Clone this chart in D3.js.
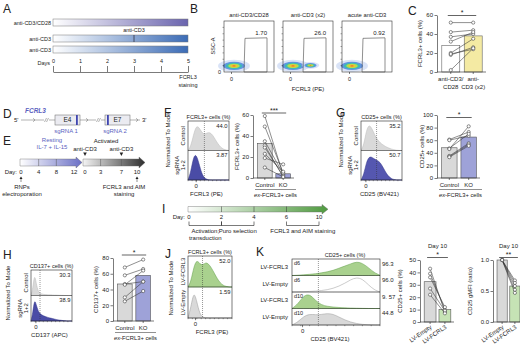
<!DOCTYPE html>
<html>
<head>
<meta charset="utf-8">
<script src="https://cdn.jsdelivr.net/npm/d3@7"></script>
<style>
  body { margin: 0; background: #fff; }
  svg { display: block; }
</style>
</head>
<body>
<svg id="fig" width="520" height="344"></svg>
<script>
// ---------- data ----------
const aConds = ["anti-CD3/CD28", "anti-CD3", "anti-CD3"];
const aDays = [0, 1, 2, 3, 4, 5];

const bTitles = ["anti-CD3/CD28", "anti-CD3 (x2)", "acute anti-CD3"];
const bGatePct = ["1.70", "26.0", "0.92"];
// flow populations per plot: [FCRL3 pos, SSC pos, relative size]
const bPops = [[[0.2, 0.12, 1]], [[0.2, 0.12, 1], [0.55, 0.13, 0.55]], [[0.2, 0.12, 1]]];

const cCats = ["anti-CD3/CD28", "anti-CD3 (x2)"];
const cMeans = [28, 38];
const cPairs = [[52, 52], [42, 44], [37, 40], [32, 42], [20, 35], [18, 26], [19, 24], [2, 25]];

const eRestDays = [0, 4, 8, 12];
const eActDays = [0, 3, 7, 10];

const fHistPct = ["44.0", "3.87"];
const fHistCtrl = [0, 0.15, 0.6, 0.95, 0.9, 0.7, 0.62, 0.68, 0.7, 0.6, 0.42, 0.25, 0.12, 0.05, 0.02, 0];
const fHistKO = [0, 0.3, 0.9, 1.0, 0.65, 0.25, 0.08, 0.02, 0, 0, 0, 0, 0, 0, 0, 0];
const fCats = ["Control", "KO"];
const fMeans = [33, 4];
const fPairs = [[59, 3], [49, 5], [35, 4], [31, 1], [29, 2], [23, 6], [19, 13], [10, 1]];

const gHistPct = ["35.2", "50.7"];
const gHistCtrl = [0, 0.2, 0.8, 1.0, 0.85, 0.6, 0.42, 0.3, 0.22, 0.15, 0.1, 0.06, 0.03, 0.01, 0, 0];
const gHistKO = [0, 0.2, 0.7, 0.9, 0.88, 0.8, 0.75, 0.68, 0.5, 0.3, 0.15, 0.06, 0.02, 0, 0, 0];
const gMeans = [48, 65];
const gPairs = [[61, 73], [60, 67], [47, 70], [46, 82], [35, 55], [34, 53], [33, 51]];

const hHistPct = ["30.3", "38.9"];
const hHistCtrl = [0, 0.3, 1.0, 0.5, 0.2, 0.1, 0.07, 0.05, 0.04, 0.035, 0.03, 0.03, 0.025, 0.02, 0.02, 0.015, 0.01, 0.01, 0.005, 0, 0, 0, 0, 0];
const hHistKO = [0, 0.35, 1.0, 0.7, 0.45, 0.33, 0.27, 0.23, 0.2, 0.17, 0.15, 0.13, 0.11, 0.09, 0.07, 0.05, 0.04, 0.03, 0.02, 0.01, 0, 0, 0, 0];
const hMeans = [47, 58];
const hPairs = [[68, 78], [58, 66], [47, 50], [46, 64], [30, 50], [25, 38]];

const iDays = ["0", "2", "4", "6", "10"];
const iSteps = [["0", "2", ["Activation;", "transduction"]], ["2", "4", ["Puro selection"]], ["6", "10", ["FCRL3 and AIM staining"]]];

const jHistPct = ["52.0", "1.59"];
const jHistFCRL3 = [0, 0.2, 0.75, 1.0, 0.85, 0.8, 0.9, 0.85, 0.7, 0.5, 0.3, 0.15, 0.06, 0.02, 0, 0];
const jHistEmpty = [0, 0.4, 1.0, 0.6, 0.15, 0.03, 0, 0, 0, 0, 0, 0, 0, 0, 0, 0];

const kRows = ["LV-FCRL3", "LV-Empty", "LV-FCRL3", "LV-Empty"];
const kDays = ["d6", "d6", "d10", "d10"];
const kPct = ["96.3", "96.0", "9. 57", "44.8"];
const kHists = [
  [0, 0.02, 0.05, 0.08, 0.12, 0.18, 0.25, 0.35, 0.5, 0.65, 0.8, 0.95, 0.85, 0.55, 0.2, 0.02],
  [0, 0, 0.02, 0.04, 0.06, 0.1, 0.15, 0.25, 0.4, 0.6, 0.85, 1.0, 0.9, 0.5, 0.15, 0],
  [0, 0.3, 0.9, 1.0, 0.55, 0.25, 0.15, 0.1, 0.07, 0.05, 0.03, 0.02, 0.01, 0, 0, 0],
  [0, 0.2, 0.6, 0.75, 0.7, 0.72, 0.8, 0.75, 0.55, 0.35, 0.2, 0.1, 0.04, 0.01, 0, 0]
];
const kCats = ["LV-Empty", "LV-FCRL3"];
const kPctMeans = [32.5, 10];
const kPctPairs = [[43, 8], [39, 10], [36, 12], [27, 9], [22, 7]];
const kMfiMeans = [1.0, 0.58];
const kMfiPairs = [[1, 0.67], [1, 0.63], [1, 0.58], [1, 0.52], [1, 0.47]];

// ---------- styles ----------
const FONT = "'Liberation Sans', Arial, sans-serif";
const INK = "#222";
const grayFill = "#d9d9d9";
const blueBar = "#9ea2d8", blueHist = "#4a4ca6";
const greenHist = "#a9d18e", greenBar = "#c6e3b5", greenStroke = "#5c9d45";
const yellowBar = "#f4eaa3";
const purpleTxt = "#5b5fc0";

const svg = d3.select("#fig").attr("font-family", FONT);
const defs = svg.append("defs");

function grad(id, c0, c1) {
  const g = defs.append("linearGradient").attr("id", id);
  g.append("stop").attr("offset", "0%").attr("stop-color", c0);
  g.append("stop").attr("offset", "100%").attr("stop-color", c1);
}
grad("gPurple", "#ffffff", "#6a64ae");
grad("gBlue", "#ffffff", "#3c6cb6");
grad("gRest", "#ffffff", "#6a6fc5");
grad("gAct", "#f4f4f4", "#2e2e2e");
grad("gGreen", "#ffffff", "#4f9a3f");

function txt(x, y, s, o = {}) {
  const t = svg.append("text").attr("x", x).attr("y", y)
    .attr("font-size", o.size || 6).attr("fill", o.fill || INK)
    .attr("text-anchor", o.anchor || "start").text(s);
  if (o.rot) t.attr("transform", `rotate(${o.rot},${x},${y})`);
  if (o.italic) t.attr("font-style", "italic");
  if (o.weight) t.attr("font-weight", o.weight);
  return t;
}
const vtxt = (x, cy, s, o = {}) => txt(x, cy, s, Object.assign({ rot: -90, anchor: "middle" }, o));
const letter = (x, y, s) => txt(x, y, s, { size: 12 });

function line(x1, y1, x2, y2, o = {}) {
  return svg.append("line").attr("x1", x1).attr("y1", y1).attr("x2", x2).attr("y2", y2)
    .attr("stroke", o.stroke || INK).attr("stroke-width", o.w || 0.6)
    .attr("stroke-dasharray", o.dash || null);
}

function styleAxis(g) {
  g.attr("font-size", 6).attr("font-family", FONT);
  g.selectAll("path,line").attr("stroke", INK).attr("stroke-width", 0.6);
  g.selectAll("text").attr("fill", INK);
}

// ---------- A ----------
letter(3, 13, "A");
const aX = d3.scaleLinear().domain([0, 5]).range([53, 188]);
const aRowY = [19, 35, 46];
const aFill = ["url(#gPurple)", "url(#gBlue)", "url(#gBlue)"];
aConds.forEach((c, i) => {
  svg.append("rect").attr("x", aX(0)).attr("y", aRowY[i]).attr("width", aX(5) - aX(0)).attr("height", 7)
    .attr("fill", aFill[i]).attr("stroke", "#777").attr("stroke-width", 0.5);
  txt(aX(0) - 2, aRowY[i] + 5.5, c, { anchor: "end", size: 5.5 });
});
line(aX(3), aRowY[1], aX(3), aRowY[1] + 7, { stroke: "#334", w: 0.8 });
txt(aX(3), 32, "anti-CD3", { anchor: "middle", size: 5.5 });
const aAxis = svg.append("g").attr("transform", "translate(0,72)")
  .call(d3.axisTop(aX).tickValues(aDays).tickSize(6).tickSizeOuter(0).tickFormat(d3.format("d")));
styleAxis(aAxis);
aAxis.selectAll("text").attr("font-size", 5.5);
txt(aX(0) - 3, 64.5, "Days", { anchor: "end", size: 5.5 });
txt(aX(5), 79, "FCRL3", { anchor: "middle", size: 5.5 });
txt(aX(5), 87, "staining", { anchor: "middle", size: 5.5 });

// ---------- B ----------
letter(190, 13, "B");
const bLeft = [224, 283, 342], bW = 50, bTop = 21, bBot = 72;
const heat = ["#c9d7f4", "#5c8fe0", "#3bbfae", "#b7df4c", "#f1c232", "#e8692b"];
const heatK = [1.45, 1.0, 0.75, 0.52, 0.32, 0.15];
bTitles.forEach((t, i) => {
  const fx = d3.scaleLinear().domain([0, 1]).range([bLeft[i], bLeft[i] + bW]);
  const fy = d3.scaleLinear().domain([0, 1]).range([bBot, bTop]);
  txt(fx(0.5), 17, t, { anchor: "middle", size: 5.8 });
  bPops[i].forEach(p => {
    heat.forEach((c, k) => {
      svg.append("ellipse").attr("cx", fx(p[0])).attr("cy", fy(p[1]))
        .attr("rx", 11 * p[2] * heatK[k]).attr("ry", 4.2 * p[2] * heatK[k])
        .attr("fill", c).attr("opacity", k === 0 ? 0.7 : 0.95);
    });
  });
  svg.append("rect").attr("x", fx(0)).attr("y", bTop).attr("width", bW).attr("height", bBot - bTop)
    .attr("fill", "none").attr("stroke", "#333").attr("stroke-width", 0.6);
  const gate = [[0.42, 0.66], [0.86, 0.67], [0.86, 0], [0.4, 0]];
  svg.append("path").attr("d", d3.line().x(d => fx(d[0])).y(d => fy(d[1]))(gate) + "Z")
    .attr("fill", "none").attr("stroke", "#444").attr("stroke-width", 0.6);
  txt(fx(0.86), fy(0.66) - 3, bGatePct[i], { anchor: "end", size: 6 });
  line(fx(0.15), bBot, fx(0.15), bBot + 2);
  txt(fx(0.15), 81, "0", { anchor: "middle", size: 5.5 });
  d3.range(1, 8).forEach(k => line(fx(0) - 1.5, fy(k / 8), fx(0), fy(k / 8), { w: 0.4 }));
});
txt(bLeft[0] - 3, 74, "0", { anchor: "end", size: 5.5 });
vtxt(215, 46, "SSC-A", { size: 5.5 });
txt(bLeft[1] + bW / 2, 91, "FCRL3 (PE)", { anchor: "middle", size: 6 });

// ---------- paired bar charts ----------
function pairedBars(c) {
  const x = d3.scaleBand().domain(c.cats).range([c.x0 + 3, c.x1]).paddingInner(c.padIn || 0.2).paddingOuter(0.08);
  const y = d3.scaleLinear().domain(c.yDomain).range([c.yBottom, c.yTop]);
  const cx = i => x(c.cats[i]) + x.bandwidth() / 2;
  svg.append("g").selectAll("rect").data(c.cats).join("rect")
    .attr("x", d => x(d)).attr("width", x.bandwidth())
    .attr("y", (d, i) => y(c.means[i])).attr("height", (d, i) => y(0) - y(c.means[i]))
    .attr("fill", (d, i) => c.fills[i]).attr("stroke", c.barStroke || "#555").attr("stroke-width", 0.6);
  const ax = svg.append("g").attr("transform", `translate(${c.x0},0)`)
    .call(d3.axisLeft(y).tickValues(c.yTicks).tickSize(2.5).tickSizeOuter(0).tickPadding(1.5)
      .tickFormat(c.fmt || d3.format("d")));
  styleAxis(ax);
  line(c.x0, y(0), c.x1 + 2, y(0));
  c.cats.forEach((d, i) => line(cx(i), y(0), cx(i), y(0) + 2));
  const gp = svg.append("g");
  gp.selectAll("line").data(c.pairs).join("line")
    .attr("x1", cx(0)).attr("x2", cx(1)).attr("y1", p => y(p[0])).attr("y2", p => y(p[1]))
    .attr("stroke", "#333").attr("stroke-width", 0.55);
  [0, 1].forEach(s => {
    gp.append("g").selectAll("circle").data(c.pairs).join("circle")
      .attr("cx", cx(s)).attr("cy", p => y(p[s])).attr("r", 1.6)
      .attr("fill", "#fff").attr("stroke", "#333").attr("stroke-width", 0.55);
  });
  vtxt(c.ylabelX, (c.yTop + c.yBottom) / 2, c.ylabel, { size: 6 });
  line(cx(0) - 3, c.sigY, cx(1) + 3, c.sigY, { w: 0.7 });
  txt((cx(0) + cx(1)) / 2, c.sigY - 0.5, c.sig, { anchor: "middle", size: 7 });
  return { x, y, cx };
}

function exLabels(r, c) {
  c.cats.forEach((d, i) => txt(r.cx(i), c.yBottom + 9, d, { anchor: "middle", size: 6 }));
  line(c.x0 + 2, c.yBottom + 11.5, c.x1 + 4, c.yBottom + 11.5, { w: 0.5 });
  const t = txt((c.x0 + c.x1) / 2 + 3, c.yBottom + 18.5, "", { anchor: "middle", size: 5.8 });
  t.append("tspan").attr("font-style", "italic").text("ex-");
  t.append("tspan").text("FCRL3+ cells");
}

// ---------- C ----------
letter(408, 15, "C");
const cCfg = {
  cats: cCats, means: cMeans, pairs: cPairs, fills: ["#fff", yellowBar], barStroke: "#666",
  x0: 437, x1: 484, yTop: 15, yBottom: 72, yDomain: [0, 60], yTicks: [0, 20, 40, 60],
  ylabel: "FCRL3+ cells (%)", ylabelX: 422, sig: "*", sigY: 15.5
};
const cR = pairedBars(cCfg);
[["anti-CD3/", "CD28"], ["anti-", "CD3 (x2)"]].forEach((l, i) => {
  txt(cR.cx(i), 81, l[0], { anchor: "middle", size: 6 });
  txt(cR.cx(i), 88.5, l[1], { anchor: "middle", size: 6 });
});

// ---------- D ----------
letter(3, 118, "D");
txt(25, 113, "FCRL3", { size: 6.5, italic: true, weight: "bold", fill: purpleTxt });
const dY = 120;
txt(14, dY + 2, "5'", { size: 6 });
txt(142, dY + 2, "3'", { size: 6 });
[[21, 44], [49, 55], [80, 96], [101, 105], [130, 140]].forEach(s => line(s[0], dY, s[1], dY, { stroke: "#666", w: 0.5 }));
[35, 88, 138].forEach(xc => svg.append("path").attr("d", `M${xc - 2},${dY - 1.8}L${xc},${dY}L${xc - 2},${dY + 1.8}`)
  .attr("fill", "none").attr("stroke", "#666").attr("stroke-width", 0.5));
[46.5, 98.5].forEach(xc => {
  line(xc - 2, dY + 2, xc, dY - 2, { stroke: "#666", w: 0.5 });
  line(xc, dY + 2, xc + 2, dY - 2, { stroke: "#666", w: 0.5 });
});
[["E4", 55, 76, "sgRNA 1", 66], ["E7", 105, 107, "sgRNA 2", 115]].forEach(e => {
  svg.append("rect").attr("x", e[1]).attr("y", dY - 5).attr("width", 25).attr("height", 10)
    .attr("fill", "#ebebf1").attr("stroke", "#666").attr("stroke-width", 0.5);
  svg.append("rect").attr("x", e[2]).attr("y", dY - 5).attr("width", 1.8).attr("height", 10).attr("fill", "#3f45b0");
  txt(e[1] + 12.5, dY + 2.3, e[0], { anchor: "middle", size: 6.5 });
  txt(e[4], dY + 13, e[3], { anchor: "middle", size: 6, fill: purpleTxt });
});

// ---------- E ----------
letter(3, 145, "E");
const eX1 = d3.scaleLinear().domain([0, 12]).range([21, 74]);
const eX2 = d3.scaleLinear().domain([0, 10]).range([85, 137]);
function arrow(x0, x1, yt, yb, fill) {
  const ym = (yt + yb) / 2, h = x1 - 6;
  svg.append("path").attr("d", `M${x0},${yt}L${h},${yt}L${h},${yt - 2}L${x1},${ym}L${h},${yb + 2}L${h},${yb}L${x0},${yb}Z`)
    .attr("fill", fill).attr("stroke", "#666").attr("stroke-width", 0.4);
}
arrow(eX1(0) - 1, eX1(12) + 8, 159, 166, "url(#gRest)");
arrow(eX2(0) - 2, eX2(10) + 8, 159, 166, "url(#gAct)");
eRestDays.slice(1, 3).forEach(d => line(eX1(d), 159, eX1(d), 166, { stroke: "#555", w: 0.5 }));
eActDays.slice(1, 3).forEach(d => line(eX2(d), 159, eX2(d), 166, { stroke: "#555", w: 0.5 }));
txt(17, 174, "Day:", { anchor: "end", size: 6 });
eRestDays.forEach(d => txt(eX1(d), 174, d, { anchor: "middle", size: 6 }));
eActDays.forEach(d => txt(eX2(d), 174, d, { anchor: "middle", size: 6 }));
txt(52, 142, "Resting", { anchor: "middle", size: 6, fill: purpleTxt });
txt(52, 149, "IL-7 + IL-15", { anchor: "middle", size: 6, fill: purpleTxt });
txt(106, 143, "Activated", { anchor: "middle", size: 6 });
[0, 7].forEach(d => {
  txt(eX2(d), 150.5, "anti-CD3", { anchor: "middle", size: 6 });
  svg.append("path").attr("d", `M${eX2(d) - 1.8},${152.5}L${eX2(d) + 1.8},${152.5}L${eX2(d)},${156}Z`).attr("fill", INK);
});
[[eX1(0), ["RNPs", "electroporation"], 22], [eX2(10), ["FCRL3 and AIM", "staining"], 124]].forEach(u => {
  line(u[0], 177.5, u[0], 182, { w: 0.5 });
  svg.append("path").attr("d", `M${u[0] - 1.5},${179}L${u[0] + 1.5},${179}L${u[0]},${176.5}Z`).attr("fill", INK);
  txt(u[2], 189, u[1][0], { anchor: "middle", size: 6 });
  txt(u[2], 196, u[1][1], { anchor: "middle", size: 6 });
});

// ---------- histograms ----------
function histPanel(o) {
  const fx = d3.scaleLinear().domain([0, 1]).range([o.x0, o.x1]);
  o.rows.forEach((r, i) => {
    const rt = o.top + i * o.rowH, rb = rt + o.rowH;
    const xs = d3.scaleLinear().domain([0, r.vals.length - 1]).range([o.x0, o.x1]);
    const ys = d3.scaleLinear().domain([0, 1]).range([rb, rt + o.rowH * 0.12]);
    const area = d3.area().x((d, j) => xs(j)).y0(rb).y1(d => ys(d)).curve(d3.curveBasis);
    svg.append("path").datum(r.vals).attr("d", area)
      .attr("fill", r.fill).attr("stroke", r.stroke).attr("stroke-width", 0.5);
    if (i > 0) line(o.x0, rt, o.x1, rt, { w: 0.5 });
    if (o.nums) {
      if (o.numsOut) txt(o.x1 + 2, rt + 6.5, o.nums[i], { size: 6 });
      else txt(o.x1 - 1.5, rt + 6.5, o.nums[i], { anchor: "end", size: 5.8 });
    }
    if (o.tags) txt(o.x0 + 2, rt + 6, o.tags[i], { size: 5.5 });
    if (o.rowLabels) {
      const l = o.rowLabels[i];
      if (o.rowLabelsVert) {
        l.forEach((s, k) => vtxt(o.x0 - 3 - (l.length - 1 - k) * 6.5, (rt + rb) / 2, s, { size: 6 }));
      } else {
        txt(o.x0 - 4, (rt + rb) / 2 + 2, l[0], { anchor: "end", size: 6 });
      }
    }
  });
  const bottom = o.top + o.rows.length * o.rowH;
  svg.append("rect").attr("x", o.x0).attr("y", o.top).attr("width", o.x1 - o.x0).attr("height", bottom - o.top)
    .attr("fill", "none").attr("stroke", INK).attr("stroke-width", 0.6);
  line(fx(o.gate), o.top, fx(o.gate), bottom, { dash: "1,1", w: 0.5, stroke: "#333" });
  d3.range(0, 1.01, 0.1).forEach(t => line(fx(t), bottom, fx(t), bottom + 1.2, { w: 0.4 }));
  line(fx(o.zero), bottom, fx(o.zero), bottom + 2.2);
  txt(fx(o.zero), bottom + 8, "0", { anchor: "middle", size: 6 });
  txt(o.titleX || fx(0.5), o.top - 2.5, o.title, { anchor: "middle", size: 5.6 });
  txt(o.xlabelX || fx(0.45), bottom + 16, o.xlabel, { anchor: "middle", size: 6 });
  if (o.normX) vtxt(o.normX, o.normY || (o.top + bottom) / 2, "Normalized To Mode", { size: 6 });
}

// ---------- F ----------
letter(164, 117, "F");
histPanel({
  x0: 188, x1: 229, top: 121, rowH: 29.5, gate: 0.4, zero: 0.2,
  rows: [{ vals: fHistCtrl, fill: grayFill, stroke: "#bbb" }, { vals: fHistKO, fill: blueHist, stroke: "#34368a" }],
  nums: fHistPct, rowLabels: [["Control"], ["sgRNA", "1+2"]], rowLabelsVert: true,
  title: "FCRL3+ cells (%)", xlabel: "FCRL3 (PE)", normX: 170, normY: 140
});
const fCfg = {
  cats: fCats, means: fMeans, pairs: fPairs, fills: [grayFill, blueBar],
  x0: 253, x1: 292, yTop: 115, yBottom: 178, yDomain: [0, 60], yTicks: [0, 20, 40, 60],
  ylabel: "FCRL3+ cells (%)", ylabelX: 239, sig: "***", sigY: 113
};
exLabels(pairedBars(fCfg), fCfg);

// ---------- G ----------
letter(336, 117, "G");
histPanel({
  x0: 361, x1: 402, top: 121, rowH: 29.5, gate: 0.38, zero: 0.12,
  rows: [{ vals: gHistCtrl, fill: grayFill, stroke: "#bbb" }, { vals: gHistKO, fill: "#5557b0", stroke: "#34368a" }],
  nums: gHistPct, rowLabels: [["Control"], ["sgRNA", "1+2"]], rowLabelsVert: true,
  title: "CD25+ cells (%)", xlabel: "CD25 (BV421)", normX: 343, normY: 140
});
const gCfg = {
  cats: fCats, means: gMeans, pairs: gPairs, fills: [grayFill, blueBar],
  x0: 437, x1: 478, yTop: 115, yBottom: 178, yDomain: [0, 100], yTicks: [0, 20, 40, 60, 80, 100],
  ylabel: "CD25+ cells (%)", ylabelX: 424, sig: "*", sigY: 117.5
};
exLabels(pairedBars(gCfg), gCfg);

// ---------- H ----------
letter(3, 259, "H");
histPanel({
  x0: 31, x1: 72, top: 270, rowH: 25.5, gate: 0.22, zero: 0.12,
  rows: [{ vals: hHistCtrl, fill: grayFill, stroke: "#bbb" }, { vals: hHistKO, fill: blueHist, stroke: "#34368a" }],
  nums: hHistPct, rowLabels: [["Control"], ["sgRNA", "1+2"]], rowLabelsVert: true,
  title: "CD137+ cells (%)", xlabel: "CD137 (APC)", normX: 10, normY: 293
});
const hCfg = {
  cats: fCats, means: hMeans, pairs: hPairs, fills: [grayFill, blueBar],
  x0: 113, x1: 152, yTop: 258, yBottom: 321, yDomain: [0, 80], yTicks: [0, 20, 40, 60, 80],
  ylabel: "CD137+ cells (%)", ylabelX: 98, sig: "*", sigY: 255
};
exLabels(pairedBars(hCfg), hCfg);

// ---------- I ----------
letter(162, 213, "I");
const iX = d3.scalePoint().domain(iDays).range([189, 319]);
arrow(iX("0") - 1, iX("10") + 9, 206.5, 212, "url(#gGreen)");
iDays.slice(1, 4).forEach(d => line(iX(d), 206.5, iX(d), 212, { stroke: "#333", w: 0.5 }));
txt(185, 219, "Day:", { anchor: "end", size: 6 });
iDays.forEach(d => txt(iX(d), 219, d, { anchor: "middle", size: 6 }));
iSteps.forEach(s => {
  const a = iX(s[0]), b = iX(s[1]);
  svg.append("path").attr("d", `M${a},221.5V225.5H${b}V221.5`).attr("fill", "none").attr("stroke", INK).attr("stroke-width", 0.6);
  s[2].forEach((l, k) => txt((a + b) / 2, 233 + k * 7, l, { anchor: "middle", size: 6 }));
});

// ---------- J ----------
letter(165, 258, "J");
histPanel({
  x0: 188, x1: 232, top: 256, rowH: 31, gate: 0.33, zero: 0.17,
  rows: [{ vals: jHistFCRL3, fill: greenHist, stroke: greenStroke }, { vals: jHistEmpty, fill: grayFill, stroke: "#999" }],
  nums: jHistPct, rowLabels: [["LV-FCRL3"], ["LV-Empty"]], rowLabelsVert: true,
  title: "FCRL3+ cells (%)", xlabel: "FCRL3 (PE)", xlabelX: 212, normX: 173, normY: 288
});

// ---------- K ----------
letter(256, 256, "K");
histPanel({
  x0: 292, x1: 380, top: 259, rowH: 16.5, gate: 0.3, zero: 0.12,
  rows: kHists.map((v, i) => ({
    vals: v, fill: i % 2 === 0 ? greenHist : (i === 1 ? "#fff" : grayFill),
    stroke: i % 2 === 0 ? greenStroke : "#999"
  })),
  nums: kPct, numsOut: true, tags: kDays, rowLabels: kRows.map(r => [r]),
  title: "CD25+ cells (%)", titleX: 345, xlabel: "CD25 (BV421)", xlabelX: 330
});

function kBars(c) {
  const r = pairedBars(c);
  c.cats.forEach((d, i) => txt(r.cx(i) + 2, c.yBottom + 6, d, { anchor: "end", size: 6, rot: -35 }));
  txt((r.cx(0) + r.cx(1)) / 2, 248, "Day 10", { anchor: "middle", size: 6 });
}
kBars({
  cats: kCats, means: kPctMeans, pairs: kPctPairs, fills: [grayFill, greenBar],
  x0: 420, x1: 452, yTop: 260, yBottom: 322, yDomain: [0, 50], yTicks: [0, 10, 20, 30, 40, 50],
  ylabel: "CD25+ cells (%)", ylabelX: 402, sig: "*", sigY: 257.5
});
kBars({
  cats: kCats, means: kMfiMeans, pairs: kMfiPairs, fills: [grayFill, greenBar],
  x0: 493, x1: 521, yTop: 260, yBottom: 322, yDomain: [0, 1], yTicks: [0, 0.5, 1.0],
  fmt: d3.format(".1f"), ylabel: "CD25 gMFI (ratio)", ylabelX: 472, sig: "**", sigY: 257.5
});
</script>
</body>
</html>
